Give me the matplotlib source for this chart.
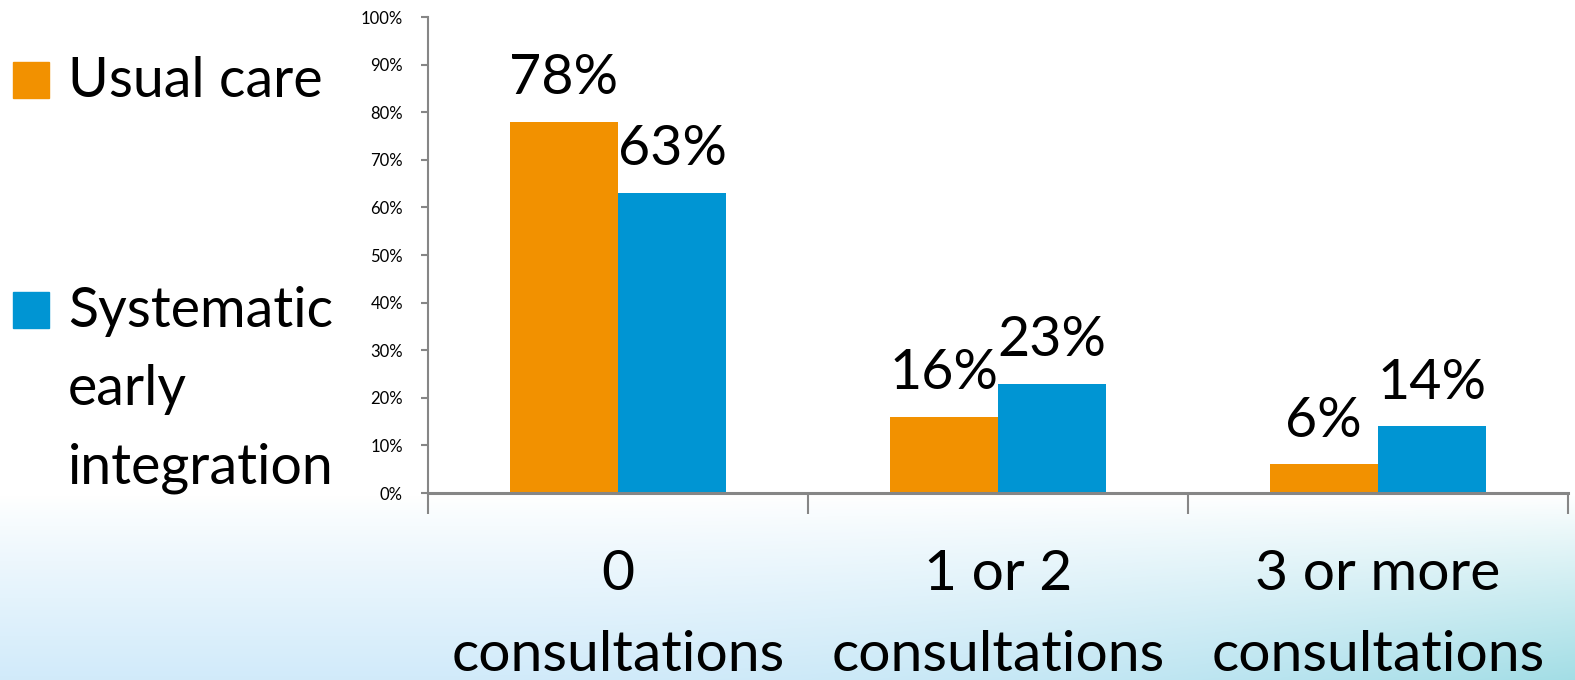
import numpy as np
import matplotlib
matplotlib.use("Agg")
import matplotlib.pyplot as plt
from matplotlib.patches import Rectangle

# data
categories = ["0\nconsultations", "1 or 2\nconsultations", "3 or more\nconsultations"]
usual_care = [78, 16, 6]
early_integration = [63, 23, 14]
series_names = ["Usual care", "Systematic\nearly\nintegration"]
colors = ["#F29100", "#0095D3"]

plt.rcParams['font.family'] = ['Lato', 'DejaVu Sans']

fig = plt.figure(figsize=(15.75, 6.8), dpi=100)

# background gradient (white on top, light blue at the bottom)
bg = fig.add_axes([0, 0, 1, 1], zorder=0)
h, w = 680, 1575
yy = np.linspace(0, 1, h)[:, None]
xx = np.linspace(0, 1, w)[None, :]
t = np.clip((yy - 0.73) / 0.27, 0, 1) ** 0.9
top = np.array([1.0, 1.0, 1.0])
left_col = np.array([0.82, 0.92, 0.98])
right_col = np.array([0.64, 0.87, 0.90])
mix = np.clip((xx - 0.3) / 0.7, 0, 1) ** 2
bottom = left_col[None, None, :] * (1 - mix[..., None]) + right_col[None, None, :] * mix[..., None]
img = top[None, None, :] * (1 - t[..., None]) + bottom * t[..., None]
bg.imshow(img, aspect='auto', extent=[0, 1, 0, 1], origin='upper')
bg.axis('off')

ax = fig.add_axes([428 / 1575, 187 / 680, 1140 / 1575, 476 / 680], zorder=1)
ax.patch.set_alpha(0)

x = np.arange(len(categories))
width = 0.285
b1 = ax.bar(x - width / 2, np.array(usual_care) / 100, width, color=colors[0])
b2 = ax.bar(x + width / 2, np.array(early_integration) / 100, width, color=colors[1])

# value labels above the bars
for bars, vals in [(b1, usual_care), (b2, early_integration)]:
    for rect, v in zip(bars, vals):
        ax.annotate(f"{v}%", (rect.get_x() + rect.get_width() / 2, rect.get_height()),
                    xytext=(0, 20), textcoords="offset points",
                    ha="center", va="baseline", fontsize=40)

ax.set_xlim(-0.5, 2.5)
ax.set_ylim(0, 1)
ax.set_yticks(np.arange(0, 1.01, 0.1))
ax.set_yticklabels([f"{int(round(v * 100))}%" for v in np.arange(0, 1.01, 0.1)], fontsize=12)
ax.tick_params(axis='y', length=5, width=1.5, color="#868686", pad=13)

ax.set_xticks(x)
ax.set_xticklabels(categories, fontsize=41, linespacing=1.75)
ax.tick_params(axis='x', which='major', length=0, pad=40)
ax.set_xticks([-0.5, 0.5, 1.5, 2.5], minor=True)
ax.tick_params(axis='x', which='minor', length=15, width=1.5, color="#868686")

for side in ['top', 'right']:
    ax.spines[side].set_visible(False)
for side in ['left', 'bottom']:
    ax.spines[side].set_color("#868686")
ax.spines['left'].set_linewidth(1.5)
ax.spines['bottom'].set_linewidth(2.2)

# legend on the left
legend_baselines = [97, 327]
for name, col, base in zip(series_names, colors, legend_baselines):
    fig.patches.append(Rectangle((13 / 1575, 1 - (base + 1) / 680), 36 / 1575, 36 / 680,
                                 transform=fig.transFigure, color=col))
    for i, line in enumerate(name.split("\n")):
        fig.text(68 / 1575, 1 - (base + 78 * i) / 680, line, fontsize=40,
                 va='baseline', ha='left')

fig.savefig("out.png", dpi=100)
